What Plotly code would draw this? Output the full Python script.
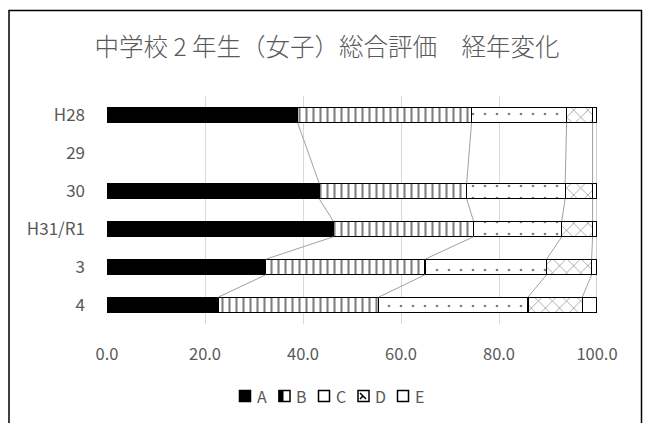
import plotly.graph_objects as go

categories = ["H28", "29", "30", "H31/R1", "3", "4"]
series_names = ["A", "B", "C", "D", "E"]
A = [38.9, None, 43.3, 46.2, 32.4, 22.7]
B = [35.5, None, 30.1, 28.6, 32.5, 32.7]
C = [19.4, None, 20.1, 18.0, 24.8, 30.5]
D = [5.3, None, 5.6, 6.3, 9.2, 11.1]
E = [0.9, None, 0.9, 0.9, 1.1, 3.0]
x_ticks = [0, 20, 40, 60, 80, 100]
title_text = "中学校 2 年生（女子）総合評価　経年変化"

FONT = "Noto Sans CJK JP, Noto Sans, sans-serif"
GRAY = "#595959"
BAR_W = 0.41

ypos = list(range(len(categories)))
data = [A, B, C, D, E]

styles = [
    dict(color="black", pattern=None),
    dict(color="white", pattern=dict(shape="|", fgcolor="black", bgcolor="white", size=7, solidity=0.3)),
    dict(color="white", pattern=dict(shape=".", fgcolor="black", bgcolor="white", size=12, solidity=0.04)),
    dict(color="white", pattern=dict(shape="x", fgcolor="black", bgcolor="white", size=10, solidity=0.12)),
    dict(color="white", pattern=None),
]

fig = go.Figure()
for name, vals, st in zip(series_names, data, styles):
    marker = dict(color=st["color"], line=dict(color="black", width=1.2))
    if st["pattern"] is not None:
        marker["pattern"] = st["pattern"]
    fig.add_trace(go.Bar(
        name=name, x=vals, y=ypos, orientation="h", width=BAR_W,
        marker=marker, showlegend=False,
    ))

# series lines joining segment boundaries of consecutive bars
rows = [i for i in ypos if A[i] is not None]
lx, ly = [], []
for k in range(len(data)):
    cums = {}
    for i in rows:
        cums[i] = sum(data[s][i] for s in range(k + 1))
    for a, b in zip(rows[:-1], rows[1:]):
        lx += [cums[a], cums[b], None]
        ly += [a + BAR_W / 2, b - BAR_W / 2, None]
fig.add_trace(go.Scatter(x=lx, y=ly, mode="lines", line=dict(color="#a0a0a0", width=1),
                         showlegend=False, hoverinfo="skip"))

W, H = 648, 423
L, R, T, Bm = 107, 51, 96, 99
pw, ph = W - L - R, H - T - Bm


def px2x(px):
    return (px - L) / pw


def px2y(py):
    return (H - Bm - py) / ph


shapes = [dict(type="rect", xref="paper", yref="paper",
               x0=px2x(9), x1=px2x(641.5), y0=px2y(440), y1=px2y(10.5),
               line=dict(color="black", width=1.5), fillcolor="rgba(0,0,0,0)", layer="above")]
annotations = []

# custom compact legend
leg_y = 396
sq = 11
for i, name in enumerate(series_names):
    x0 = 239.5 + i * 39.5
    fill = "black" if i == 0 else "white"
    shapes.append(dict(type="rect", xref="paper", yref="paper",
                       x0=px2x(x0), x1=px2x(x0 + sq), y0=px2y(leg_y + sq / 2), y1=px2y(leg_y - sq / 2),
                       line=dict(color="black", width=1.5), fillcolor=fill))
    if i == 1:
        shapes.append(dict(type="rect", xref="paper", yref="paper",
                           x0=px2x(x0), x1=px2x(x0 + 4), y0=px2y(leg_y + sq / 2), y1=px2y(leg_y - sq / 2),
                           line=dict(color="black", width=1), fillcolor="black"))
    if i == 3:
        shapes.append(dict(type="path", xref="paper", yref="paper",
                           path=f"M {px2x(x0 + 2)},{px2y(leg_y - 3)} L {px2x(x0 + sq - 3)},{px2y(leg_y + 3)} "
                                f"M {px2x(x0 + 2)},{px2y(leg_y + 3)} L {px2x(x0 + 5)},{px2y(leg_y)}",
                           line=dict(color="black", width=1.5)))
    annotations.append(dict(xref="paper", yref="paper", x=px2x(x0 + sq + 4), y=px2y(leg_y),
                            xanchor="left", yanchor="middle", text=name, showarrow=False,
                            font=dict(size=16, color=GRAY, family=FONT)))

fig.update_layout(
    width=W, height=H,
    margin=dict(l=L, r=R, t=T, b=Bm, pad=0),
    barmode="stack",
    paper_bgcolor="white", plot_bgcolor="white",
    font=dict(family=FONT, color=GRAY, size=16),
    title=dict(text=title_text, x=px2x(327) * pw / W + L / W, xanchor="center", y=1 - 47 / H, yanchor="middle",
               xref="container", yref="container",
               font=dict(family=FONT, size=24.5, color=GRAY, weight=300)),
    xaxis=dict(range=[0, 100], tickvals=x_ticks, tickformat=".1f", showgrid=True,
               gridcolor="#d9d9d9", gridwidth=1, zeroline=False, showline=False,
               ticks="", ticklabelstandoff=18, tickfont=dict(size=16.5, color=GRAY)),
    yaxis=dict(range=[len(categories) - 0.5, -0.5], tickvals=ypos, ticktext=categories,
               showgrid=False, zeroline=False, showline=False, ticks="",
               ticklabelstandoff=21, tickfont=dict(size=17, color=GRAY)),
    showlegend=False,
    shapes=shapes,
    annotations=annotations,
)

fig.write_html("out.html", config={"displayModeBar": False, "staticPlot": True},
               post_script="document.body.style.margin='0';document.body.style.overflow='hidden';")
